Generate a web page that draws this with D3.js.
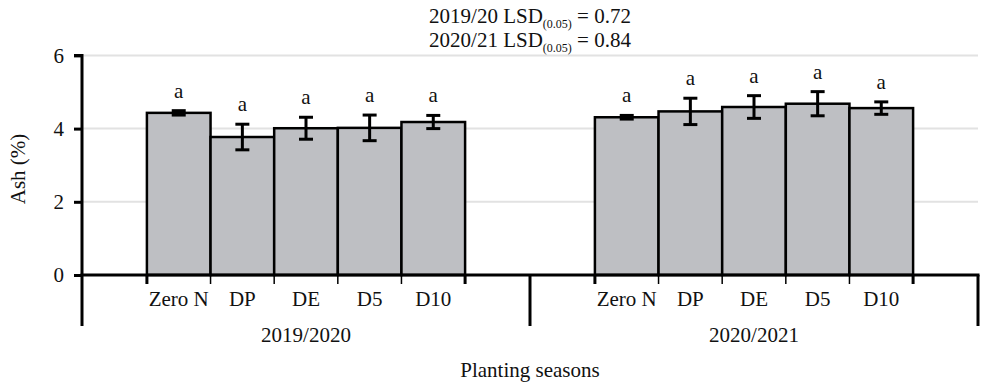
<html>
<head>
    <script src="https://cdn.jsdelivr.net/npm/d3@7"></script>
    <style>
        body { margin: 0; background: white; font-family: "Liberation Serif", "Times New Roman", serif; }
        svg text { fill: #111; font-family: "Liberation Serif", "Times New Roman", serif; }
    </style>
</head>
<body>
<svg id="chart" width="984" height="388"></svg>
<script>
    // data
    let seasons = ["2019/2020", "2020/2021"];
    let treatments = ["Zero N", "DP", "DE", "D5", "D10"];
    let ash2019 = [4.43, 3.77, 4.01, 4.02, 4.18];
    let err2019 = [0.06, 0.35, 0.30, 0.35, 0.18];
    let ash2020 = [4.31, 4.47, 4.59, 4.68, 4.56];
    let err2020 = [0.05, 0.36, 0.31, 0.33, 0.17];
    let letters2019 = ["a", "a", "a", "a", "a"];
    let letters2020 = ["a", "a", "a", "a", "a"];
    let yTicks = [0, 2, 4, 6];

    let rows = [];
    seasons.forEach((s, si) => {
        let vals = si == 0 ? ash2019 : ash2020;
        let errs = si == 0 ? err2019 : err2020;
        let lets = si == 0 ? letters2019 : letters2020;
        treatments.forEach((t, i) => {
            rows.push({season: s, treatment: t, value: vals[i], err: errs[i], letter: lets[i]});
        });
    });

    let svg = d3.select("#chart");
    let mLeft = 82, mRight = 978, mTop = 55.4, mBottom = 275;
    let fs = "21px";

    let y = d3.scaleLinear().domain([0, 6]).range([mBottom, mTop]);
    let x0 = d3.scaleBand().domain(seasons).range([mLeft, mRight]).padding(0);
    let x1 = d3.scaleBand().domain(treatments).range([0, x0.bandwidth()])
        .paddingInner(0).paddingOuter(1.02);

    // grid lines
    svg.append("g").selectAll("line").data(yTicks.filter(d => d > 0))
        .enter().append("line")
        .attr("x1", mLeft).attr("x2", mRight)
        .attr("y1", d => y(d)).attr("y2", d => y(d))
        .attr("stroke", "#e2e2e2").attr("stroke-width", 2);

    // bars
    let groups = svg.append("g").selectAll("g").data(seasons)
        .enter().append("g")
        .attr("transform", d => "translate(" + x0(d) + ",0)");

    let cells = groups.selectAll("g.cell")
        .data(s => rows.filter(r => r.season == s))
        .enter().append("g").attr("class", "cell");

    cells.append("rect")
        .attr("x", d => x1(d.treatment))
        .attr("width", x1.bandwidth())
        .attr("y", d => y(d.value))
        .attr("height", d => y(0) - y(d.value))
        .attr("fill", "#bebfc3")
        .attr("stroke", "black")
        .attr("stroke-width", 2.5);

    let cx = d => x1(d.treatment) + x1.bandwidth() / 2;
    let capW = 7;
    cells.append("line")
        .attr("x1", cx).attr("x2", cx)
        .attr("y1", d => y(d.value + d.err)).attr("y2", d => y(d.value - d.err))
        .attr("stroke", "black").attr("stroke-width", 3);
    cells.append("line")
        .attr("x1", d => cx(d) - capW).attr("x2", d => cx(d) + capW)
        .attr("y1", d => y(d.value + d.err)).attr("y2", d => y(d.value + d.err))
        .attr("stroke", "black").attr("stroke-width", 3);
    cells.append("line")
        .attr("x1", d => cx(d) - capW).attr("x2", d => cx(d) + capW)
        .attr("y1", d => y(d.value - d.err)).attr("y2", d => y(d.value - d.err))
        .attr("stroke", "black").attr("stroke-width", 3);

    cells.append("text")
        .attr("x", cx)
        .attr("y", d => y(d.value + d.err) - 13)
        .attr("text-anchor", "middle")
        .style("font-size", fs)
        .text(d => d.letter);

    // small ticks at bar edges, labels
    groups.each(function(s) {
        let g = d3.select(this);
        let edges = treatments.map(t => x1(t)).concat([x1(treatments[4]) + x1.bandwidth()]);
        g.selectAll("line.edge").data(edges).enter().append("line")
            .attr("x1", d => d).attr("x2", d => d)
            .attr("y1", mBottom).attr("y2", mBottom + 9)
            .attr("stroke", "black")
            .attr("stroke-width", (d, i) => (i == 0 || i == edges.length - 1) ? 3 : 1.5);
        g.selectAll("text.cat").data(treatments).enter().append("text")
            .attr("x", t => x1(t) + x1.bandwidth() / 2)
            .attr("y", mBottom + 31)
            .attr("text-anchor", "middle")
            .style("font-size", fs)
            .text(t => t);
        g.append("text")
            .attr("x", x0.bandwidth() / 2)
            .attr("y", mBottom + 67)
            .attr("text-anchor", "middle")
            .style("font-size", fs)
            .text(s);
    });

    // x axis line and season separators
    svg.append("line")
        .attr("x1", mLeft - 1.5).attr("x2", mRight + 1.5)
        .attr("y1", mBottom).attr("y2", mBottom)
        .attr("stroke", "black").attr("stroke-width", 3);
    let seps = seasons.map(s => x0(s)).concat([mRight]);
    svg.append("g").selectAll("line").data(seps).enter().append("line")
        .attr("x1", d => d).attr("x2", d => d)
        .attr("y1", mBottom).attr("y2", mBottom + 51)
        .attr("stroke", "black").attr("stroke-width", 3);

    // y axis
    let yAxis = d3.axisLeft(y).tickValues(yTicks).tickFormat(d3.format("d"))
        .tickSize(8).tickPadding(10);
    let ya = svg.append("g").attr("transform", "translate(" + mLeft + ",0)").call(yAxis);
    ya.select(".domain").attr("stroke", "black").attr("stroke-width", 3)
        .attr("d", "M-8," + mTop + "H0V" + mBottom);
    ya.selectAll(".tick line").attr("stroke", "black").attr("stroke-width", 3);
    ya.selectAll(".tick text").style("font-size", fs)
        .style("font-family", "Liberation Serif").attr("fill", "#111");

    svg.append("text")
        .attr("transform", "translate(25,169) rotate(-90)")
        .attr("text-anchor", "middle")
        .style("font-size", fs)
        .text("Ash (%)");

    svg.append("text")
        .attr("x", 530).attr("y", 377)
        .attr("text-anchor", "middle")
        .style("font-size", fs)
        .text("Planting seasons");

    // LSD title
    let lsd = [["2019/20 LSD", "(0.05)", " = 0.72"], ["2020/21 LSD", "(0.05)", " = 0.84"]];
    lsd.forEach((l, i) => {
        let t = svg.append("text")
            .attr("x", 530).attr("y", 23 + i * 24)
            .attr("text-anchor", "middle")
            .style("font-size", fs);
        t.append("tspan").text(l[0]);
        t.append("tspan").attr("dy", 5).style("font-size", "12px").text(l[1]);
        t.append("tspan").attr("dy", -5).text(l[2]);
    });
</script>
</body>
</html>
